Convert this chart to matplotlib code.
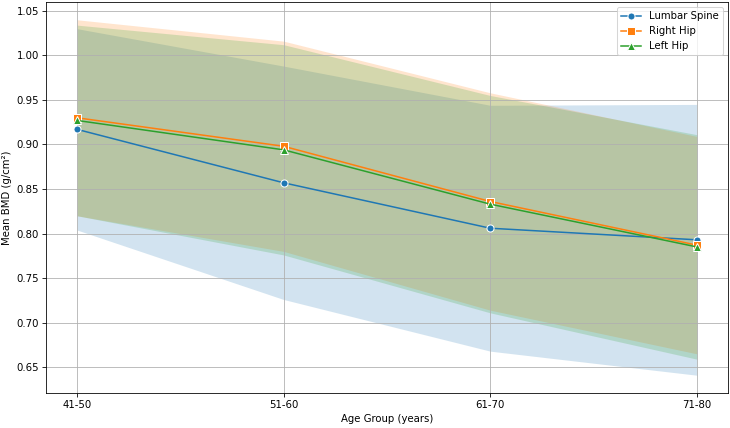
import numpy as np
import matplotlib.pyplot as plt

# Mean BMD by age group, with standard deviation bands
age_groups = ['41-50', '51-60', '61-70', '71-80']
lumbar_mean = [0.917, 0.857, 0.806, 0.793]
lumbar_sd = [0.113, 0.131, 0.138, 0.152]
right_hip_mean = [0.930, 0.898, 0.836, 0.787]
right_hip_sd = [0.110, 0.118, 0.122, 0.122]
left_hip_mean = [0.927, 0.894, 0.833, 0.785]
left_hip_sd = [0.107, 0.118, 0.122, 0.126]

series = [
    ('Lumbar Spine', lumbar_mean, lumbar_sd, 'o', 'tab:blue'),
    ('Right Hip', right_hip_mean, right_hip_sd, 's', 'tab:orange'),
    ('Left Hip', left_hip_mean, left_hip_sd, '^', 'tab:green'),
]

fig, ax = plt.subplots(figsize=(10, 428 / 73), dpi=73)
x = np.arange(len(age_groups))

for label, mean, sd, marker, color in series:
    mean = np.array(mean)
    sd = np.array(sd)
    ax.plot(x, mean, marker=marker, color=color, label=label,
            markeredgecolor='white', markeredgewidth=1, markersize=7, lw=1.5)
    ax.fill_between(x, mean - sd, mean + sd, color=color, alpha=0.2, lw=0)

ax.set_xticks(x)
ax.set_xticklabels(age_groups)
ax.set_xlabel('Age Group (years)')
ax.set_ylabel('Mean BMD (g/cm²)')
ax.grid(True)
ax.legend(loc='upper right')

plt.subplots_adjust(left=46 / 730, right=728 / 730, top=1 - 2 / 428, bottom=1 - 393 / 428)
plt.savefig('out.png', dpi=73)
